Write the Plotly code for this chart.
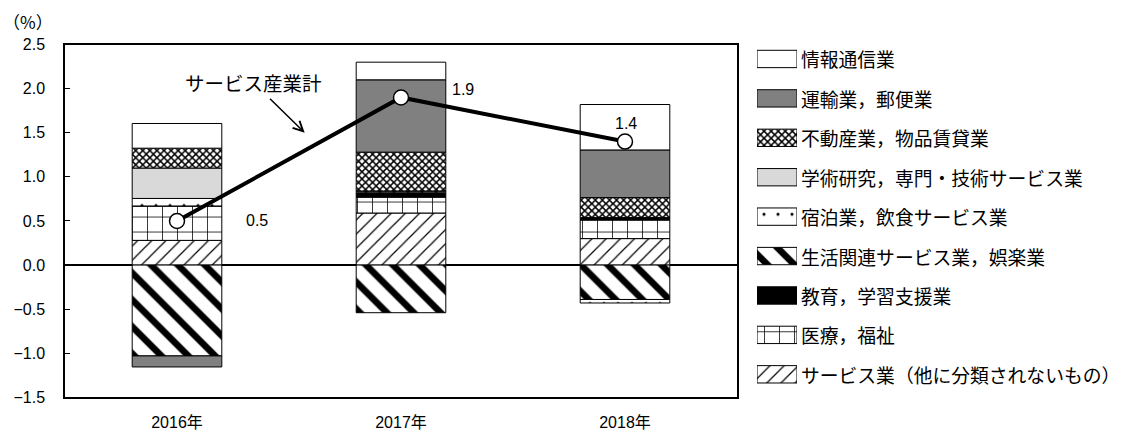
import plotly.graph_objects as go

# ---------------- data ----------------
years = ["2016年", "2017年", "2018年"]

total_name = "サービス産業計"
total = [0.5, 1.9, 1.4]

# series in stacking order (bottom -> top); legend lists them top -> bottom reversed
names = [
    "サービス業（他に分類されないもの）",
    "医療，福祉",
    "教育，学習支援業",
    "生活関連サービス業，娯楽業",
    "宿泊業，飲食サービス業",
    "学術研究，専門・技術サービス業",
    "不動産業，物品賃貸業",
    "運輸業，郵便業",
    "情報通信業",
]
service_other = [0.28, 0.59, 0.30]
medical = [0.39, 0.18, 0.21]
education = [0.0, 0.05, 0.03]
living = [-1.03, -0.54, -0.39]
lodging = [0.085, 0.02, -0.04]
academic = [0.345, 0.0, 0.0]
real_estate = [0.225, 0.44, 0.225]
transport = [-0.125, 0.82, 0.54]
info = [0.28, 0.20, 0.515]
series = [service_other, medical, education, living, lodging,
          academic, real_estate, transport, info]

y_ticks = [-1.5, -1.0, -0.5, 0.0, 0.5, 1.0, 1.5, 2.0, 2.5]
y_ticktext = [f"{v:.1f}".replace("-", "\u2212") for v in y_ticks]

# ---------------- styles ----------------
W, H = 1126, 441
FONT = "Liberation Sans, Arial, Noto Sans CJK JP"
JFONT = "Noto Sans CJK JP, Liberation Sans"


def pat(shape, size, solidity):
    return dict(shape=shape, size=size, solidity=solidity,
                fgcolor="black", bgcolor="white", fillmode="replace")


styles = [
    dict(color="white", pattern=pat("/", 10, 0.12)),      # service other
    dict(color="white", pattern=pat("+", 15, 0.1)),       # medical
    dict(color="black", pattern=None),                    # education
    dict(color="white", pattern=pat("\\", 19, 0.35)),     # living
    dict(color="white", pattern=pat(".", 14, 0.04)),      # lodging
    dict(color="#d9d9d9", pattern=None),                  # academic
    dict(color="white", pattern=pat("x", 5, 0.5)),        # real estate
    dict(color="#808080", pattern=None),                  # transport
    dict(color="white", pattern=None),                    # info
]


def marker_for(st):
    m = dict(color=st["color"], line=dict(color="black", width=1))
    if st["pattern"] is not None:
        m["pattern"] = st["pattern"]
    return m


fig = go.Figure()

# main stacked bars
for name, vals, st in zip(names, series, styles):
    fig.add_trace(go.Bar(
        x=years, y=vals, name=name, width=0.4,
        marker=marker_for(st), showlegend=False,
        xaxis="x", yaxis="y", hoverinfo="name+y",
    ))

# total line
fig.add_trace(go.Scatter(
    x=years, y=total, name=total_name, mode="lines+markers",
    line=dict(color="black", width=4),
    marker=dict(symbol="circle", size=15, color="white",
                line=dict(color="black", width=1.5)),
    showlegend=False, xaxis="x", yaxis="y",
))

# legend swatches drawn as bars on a small hidden axis
n = len(names)
for i, (name, st) in enumerate(zip(names, styles)):
    slot = n - 1 - i
    fig.add_trace(go.Bar(
        x=[1], y=[slot], orientation="h", width=0.44,
        marker=marker_for(st), showlegend=False,
        xaxis="x2", yaxis="y2", hoverinfo="skip", name=name,
    ))

annotations = []
for i, name in enumerate(names):
    slot = n - 1 - i
    annotations.append(dict(
        text=name, x=799 / W, xref="paper", y=slot, yref="y2",
        xanchor="left", yanchor="middle", showarrow=False,
        font=dict(family=JFONT, size=18.8, color="black"),
    ))

# total value labels
shifts = [(80, 0), (62, 8), (1, 18)]
for yr, v, (dx, dy) in zip(years, total, shifts):
    annotations.append(dict(
        text=f"{v:.1f}", x=yr, y=v, xref="x", yref="y",
        xshift=dx, yshift=dy, showarrow=False,
        font=dict(family=FONT, size=16, color="black"),
    ))

# series name callout with arrow
annotations.append(dict(
    text=total_name, x=0.57, y=1.5, xref="x", yref="y",
    ax=-51, ay=-50, showarrow=True, arrowhead=5, arrowsize=1.3,
    arrowwidth=1.5, arrowcolor="black", standoff=0,
    font=dict(family=JFONT, size=19.5, color="black"),
))

# unit label
annotations.append(dict(
    text="（%）", x=28 / W, y=(H - 14) / H, xref="paper", yref="paper",
    showarrow=False, xanchor="center", yanchor="middle",
    font=dict(family=JFONT, size=17, color="black"),
))

fig.update_layout(
    width=W, height=H,
    margin=dict(l=0, r=0, t=0, b=0),
    paper_bgcolor="white", plot_bgcolor="white",
    barmode="relative", bargap=0.6,
    font=dict(family=FONT, size=16, color="black"),
    annotations=annotations,
    xaxis=dict(
        domain=[65 / W, 737 / W], anchor="y",
        showline=True, mirror=True, linecolor="black", linewidth=1.5,
        ticks="", showgrid=False, tickfont=dict(family=FONT, size=16),
        ticklabelstandoff=10,
        categoryorder="array", categoryarray=years,
    ),
    yaxis=dict(
        domain=[(H - 405) / H, (H - 38) / H], anchor="x",
        range=[-1.5, 2.5], tickvals=y_ticks, ticktext=y_ticktext,
        ticks="inside", ticklen=5, tickwidth=1, tickcolor="black",
        showline=True, mirror=True, linecolor="black", linewidth=1.5,
        showgrid=False, zeroline=True, zerolinecolor="black",
        zerolinewidth=1.5, ticklabelstandoff=15,
        tickfont=dict(family=FONT, size=16),
    ),
    xaxis2=dict(domain=[757 / W, 797 / W], anchor="y2", range=[0, 1],
                visible=False, fixedrange=True),
    yaxis2=dict(domain=[(H - 401.5) / H, (H - 32.5) / H], anchor="x2",
                range=[n - 0.5, -0.5], visible=False, fixedrange=True),
)

fig.write_html(
    "out.html",
    config={"displayModeBar": False},
    post_script="document.body.style.margin='0';"
                "document.body.style.overflow='hidden';",
)
